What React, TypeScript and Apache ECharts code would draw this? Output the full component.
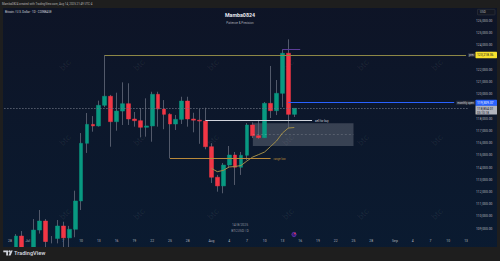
import React, { useEffect, useRef } from "react";
import * as echarts from "echarts";

// ---------- data ----------
const candleDates = [
  "2025-06-28", "2025-06-29", "2025-06-30",
  "2025-07-01", "2025-07-02", "2025-07-03", "2025-07-04", "2025-07-05", "2025-07-06", "2025-07-07",
  "2025-07-08", "2025-07-09", "2025-07-10", "2025-07-11", "2025-07-12", "2025-07-13", "2025-07-14",
  "2025-07-15", "2025-07-16", "2025-07-17", "2025-07-18", "2025-07-19", "2025-07-20", "2025-07-21",
  "2025-07-22", "2025-07-23", "2025-07-24", "2025-07-25", "2025-07-26", "2025-07-27", "2025-07-28",
  "2025-07-29", "2025-07-30", "2025-07-31",
  "2025-08-01", "2025-08-02", "2025-08-03", "2025-08-04", "2025-08-05", "2025-08-06", "2025-08-07",
  "2025-08-08", "2025-08-09", "2025-08-10", "2025-08-11", "2025-08-12", "2025-08-13", "2025-08-14",
  "2025-08-15",
];
const opens = [
  107300, 107250, 108400,
  107150, 105700, 108890, 109630, 107950, 108200, 109220,
  108250, 108950, 111270, 115990, 117540, 117410, 119100,
  119840, 117760, 118630, 119230, 117980, 117840, 117300,
  117410, 120000, 118800, 118360, 117570, 117950, 119450,
  117980, 117880, 117810,
  115710, 113210, 112500, 114210, 115030, 114030, 115010,
  117490, 116610, 116450, 119260, 118660, 120080, 123360,
  118360,
];
const highs = [
  107650, 108560, 108810,
  107550, 109790, 110530, 109790, 108400, 109710, 109570,
  109230, 112110, 116830, 118470, 118220, 119480, 123218,
  119950, 120130, 120980, 120900, 118550, 118880, 119670,
  120210, 120210, 119530, 118450, 118310, 119800, 119800,
  118490, 118800, 118900,
  116000, 113400, 114380, 115770, 115280, 115280, 117650,
  117700, 117900, 119370, 122320, 121170, 123680, 124500,
  118880,
];
const lows = [
  106900, 107050, 106800,
  105300, 105100, 108600, 107250, 107800, 107800, 107500,
  107450, 108300, 110530, 115200, 116940, 117360, 118950,
  115710, 117020, 117490, 117490, 117350, 116480, 116530,
  116120, 117350, 117140, 114760, 117080, 117570, 117350,
  116890, 115950, 115500,
  112740, 112030, 111900, 113970, 112580, 113400, 114620,
  116420, 116340, 116420, 118060, 118300, 118940, 117160,
  118140,
];
const closes = [
  107250, 108400, 107150,
  105700, 108890, 109630, 107950, 108200, 109220, 108250,
  108950, 111270, 115990, 117540, 117410, 119100, 119840,
  117760, 118630, 119230, 117980, 117840, 117300, 117410,
  120000, 118800, 118360, 117570, 117950, 119450, 117980,
  117880, 117810, 115710,
  113210, 112500, 114210, 115030, 114030, 115010, 117490,
  116610, 116450, 119260, 118660, 120080, 123360, 118360,
  118854.01,
];

// anchored VWAP (orange curve)
const vwapDates = [
  "2025-08-01", "2025-08-02", "2025-08-03", "2025-08-04", "2025-08-05", "2025-08-06", "2025-08-07",
  "2025-08-08", "2025-08-09", "2025-08-10", "2025-08-11", "2025-08-12", "2025-08-13", "2025-08-14",
  "2025-08-15",
];
const vwapValues = [
  113940, 113670, 113770, 114050, 114090, 114170, 114540,
  114870, 115070, 115280, 115730, 116180, 116830, 117240, 117280,
];

// y tick labels (123,000 and 119,000 hidden behind tags)
const priceTicks = [
  109000, 110000, 111000, 112000, 113000, 114000, 115000, 116000, 117000, 118000,
  120000, 121000, 122000, 124000, 125000, 126000,
];
const xLabelDays = [1, 4, 7, 10, 13, 16, 19, 22, 25, 28];
const monthNames = ["Jan", "Feb", "Mar", "Apr", "May", "Jun", "Jul", "Aug", "Sep", "Oct", "Nov", "Dec"];

// drawings
const prevHigh = 123218.36;
const monthlyOpen = 119309.37;
const lastPrice = 118854.01;
const sellForBuy = 117840;
const rangeLow = 114760;
const purpleLevel = 123700;
const boxTop = 117630;
const boxBottom = 115770;
const boxMid = 116700;

const axisStart = "2025-06-27";
const axisEnd = "2025-09-13";

function buildDays(start: string, end: string): string[] {
  const out: string[] = [];
  let t = Date.parse(start + "T00:00:00Z");
  const e = Date.parse(end + "T00:00:00Z");
  while (t <= e) {
    out.push(new Date(t).toISOString().slice(0, 10));
    t += 86400000;
  }
  return out;
}

const FONT = 'Roboto, "Noto Sans", Arial, sans-serif';
const fmtPrice = (v: number) =>
  v.toLocaleString("en-US", { minimumFractionDigits: 2, maximumFractionDigits: 2 });

function seg(x1: string, x2: string, y: number, lineStyle: any, label?: any) {
  const lab = label || { show: false };
  return [
    { coord: [x1, y], lineStyle, label: lab },
    { coord: [x2, y], lineStyle, label: lab },
  ];
}

export default function App() {
  const ref = useRef<HTMLDivElement>(null);

  useEffect(() => {
    const el = ref.current;
    if (!el) return;
    const chart = echarts.init(el, null, { renderer: "svg" });
    const axisDays = buildDays(axisStart, axisEnd);

    const wickData = candleDates.map((d, i) => [d, opens[i], closes[i], lows[i], highs[i]]);
    const bodyData = candleDates.map((d, i) => [
      d, opens[i], closes[i], Math.min(opens[i], closes[i]), Math.max(opens[i], closes[i]),
    ]);
    const vwapData = vwapDates.map((d, i) => [d, vwapValues[i]]);

    const smallLabel = (text: string, color: string, bg?: string) => ({
      show: true,
      position: "end",
      formatter: text,
      color,
      fontSize: 2.8,
      fontFamily: FONT,
      distance: 2,
      backgroundColor: bg || "transparent",
      padding: bg ? [0.6, 1] : 0,
      borderRadius: 0.5,
    });

    const option: any = {
      animation: false,
      backgroundColor: new echarts.graphic.LinearGradient(0, 0, 0, 1, [
        { offset: 0, color: "#0e1426" },
        { offset: 1, color: "#0a1b31" },
      ]),
      textStyle: { fontFamily: FONT },
      grid: { left: 1.116, right: 31, top: 8, bottom: 23.7, containLabel: false },
      xAxis: {
        type: "category",
        data: axisDays,
        boundaryGap: true,
        axisLine: { show: false },
        axisTick: { show: false },
        splitLine: { show: false },
        axisLabel: {
          interval: (_i: number, v: string) => xLabelDays.includes(parseInt(v.slice(8), 10)),
          formatter: (v: string) => {
            const day = parseInt(v.slice(8), 10);
            return day === 1 ? monthNames[parseInt(v.slice(5, 7), 10) - 1] : String(day);
          },
          color: "#b2b5be",
          fontSize: 3.4,
          margin: 2.6,
          fontFamily: FONT,
        },
      },
      yAxis: {
        type: "value",
        position: "right",
        min: 108296,
        max: 127064,
        axisLine: { show: false },
        axisTick: { show: false },
        splitLine: { show: false },
        axisLabel: {
          customValues: priceTicks,
          formatter: (v: number) => fmtPrice(v),
          color: "#b2b5be",
          fontSize: 3.3,
          margin: 7,
          align: "left",
          fontFamily: FONT,
        },
      },
      series: [
        {
          type: "candlestick",
          name: "wick",
          data: wickData,
          encode: { x: 0, y: [1, 2, 3, 4] },
          barWidth: 0.6,
          clip: true,
          itemStyle: {
            color: "#5a6172",
            color0: "#5a6172",
            borderColor: "#5a6172",
            borderColor0: "#5a6172",
            borderWidth: 0.9,
          },
          z: 2,
        },
        {
          type: "candlestick",
          name: "body",
          data: bodyData,
          encode: { x: 0, y: [1, 2, 3, 4] },
          barWidth: 4.3,
          clip: true,
          itemStyle: {
            color: "#089981",
            color0: "#f23645",
            borderColor: "#089981",
            borderColor0: "#f23645",
            borderWidth: 0.5,
          },
          z: 3,
          markArea: {
            silent: true,
            itemStyle: { color: "rgba(178,181,190,0.27)" },
            data: [[{ coord: ["2025-08-08", boxTop] }, { coord: ["2025-08-25", boxBottom] }]],
          },
          markLine: {
            silent: true,
            symbol: ["none", "none"],
            label: { show: false },
            data: [
              seg("2025-07-14", "2025-09-13", prevHigh, { color: "#8d8746", width: 1, type: "solid" },
                smallLabel("prev", "#d1d4dc", "#2a2e39")),
              seg("2025-08-14", "2025-09-11", monthlyOpen, { color: "#2962ff", width: 1, type: "solid" },
                smallLabel("monthly open", "#d1d4dc", "#2a2e39")),
              { yAxis: lastPrice, lineStyle: { color: "#6b7180", width: 0.8, type: [1.5, 1.5] }, label: { show: false } },
              seg("2025-07-31", "2025-08-18", sellForBuy, { color: "#d1d4dc", width: 1, type: "solid" },
                { ...smallLabel("sell for buy", "#d1d4dc"), distance: 3 }),
              seg("2025-07-25", "2025-08-11", rangeLow, { color: "#b8893a", width: 1, type: "solid" },
                { ...smallLabel("range low", "#b8893a"), distance: 3 }),
              seg("2025-08-13", "2025-08-16", purpleLevel, { color: "#5b3d98", width: 1, type: "solid" }),
              seg("2025-08-08", "2025-08-25", boxMid, { color: "rgba(255,255,255,0.22)", width: 0.7, type: [2, 2] }),
            ],
          },
        },
        {
          type: "line",
          name: "vwap",
          data: vwapData,
          showSymbol: false,
          symbol: "none",
          lineStyle: { color: "#a08d48", width: 1 },
          z: 4,
        },
      ],
    };

    chart.setOption(option);

    const yOf = (p: number) => chart.convertToPixel({ yAxisIndex: 0 }, p) as number;

    const wm: any[] = [];
    const wmX = [65, 139, 213, 288, 363, 437];
    const wmY = [65, 140, 214];
    wmY.forEach((y) =>
      wmX.forEach((x) =>
        wm.push({
          type: "text",
          x,
          y,
          rotation: Math.PI / 4,
          z: 1,
          silent: true,
          style: {
            text: "btc",
            fill: "rgba(255,255,255,0.07)",
            fontSize: 8.5,
            fontFamily: FONT,
            align: "center",
            verticalAlign: "middle",
          },
        })
      )
    );

    const tag = (p: number, bg: string, fg: string, text: string, h = 6.4) => {
      const y = yOf(p);
      return [
        { type: "rect", z: 60, shape: { x: 475.5, y: y - h / 2, width: 21.5, height: h, r: 0.6 }, style: { fill: bg } },
        {
          type: "text", z: 61, x: 477, y,
          style: { text, fill: fg, fontSize: 3.3, fontFamily: FONT, verticalAlign: "middle", align: "left" },
        },
      ];
    };

    const lastY = yOf(lastPrice);

    const graphic: any[] = [
      ...wm,
      // frame bars
      { type: "rect", z: 50, shape: { x: 0, y: 0, width: 500, height: 8 }, style: { fill: "#1e1e1e" } },
      { type: "rect", z: 50, shape: { x: 0, y: 247, width: 500, height: 14 }, style: { fill: "#1e1e1e" } },
      { type: "rect", z: 50, shape: { x: 0, y: 0, width: 3, height: 261 }, style: { fill: "#1e1e1e" } },
      { type: "rect", z: 50, shape: { x: 497, y: 0, width: 3, height: 261 }, style: { fill: "#1e1e1e" } },
      {
        type: "text", z: 51, x: 2, y: 4,
        style: {
          text: "Mamba0824 created with TradingView.com, Aug 14, 2025 21:49 UTC-4",
          fill: "#b4b4b4", fontSize: 2.9, fontFamily: FONT, verticalAlign: "middle",
        },
      },
      {
        type: "text", z: 51, x: 5, y: 11.3,
        style: {
          text: "Bitcoin / U.S. Dollar · 1D · COINBASE",
          fill: "#d1d4dc", fontSize: 2.9, fontFamily: FONT, verticalAlign: "middle",
        },
      },
      {
        type: "text", z: 51, x: 240, y: 15,
        style: {
          text: "Mamba0824", fill: "#e6e8ee", fontSize: 5.3, fontWeight: "bold",
          fontFamily: FONT, align: "center", verticalAlign: "middle",
        },
      },
      {
        type: "text", z: 51, x: 240, y: 22.7,
        style: {
          text: "Patience & Precision", fill: "#a3a6af", fontSize: 3,
          fontFamily: FONT, align: "center", verticalAlign: "middle",
        },
      },
      {
        type: "text", z: 51, x: 240, y: 224.7,
        style: {
          text: "14/8/2025", fill: "#8c909c", fontSize: 3.4,
          fontFamily: FONT, align: "center", verticalAlign: "middle",
        },
      },
      {
        type: "text", z: 51, x: 240, y: 231.3,
        style: {
          text: "BTCUSD | D", fill: "#8c909c", fontSize: 3.4,
          fontFamily: FONT, align: "center", verticalAlign: "middle",
        },
      },
      { type: "circle", z: 51, shape: { cx: 294, cy: 234.5, r: 2.2 }, style: { fill: "#3b1d7a", stroke: "#6a3cc8", lineWidth: 0.6 } },
      { type: "circle", z: 52, shape: { cx: 295, cy: 233.5, r: 0.8 }, style: { fill: "#f23645" } },
      // USD box
      {
        type: "rect", z: 55, shape: { x: 477.5, y: 9.3, width: 17.5, height: 5.6, r: 0.6 },
        style: { fill: "#131722", stroke: "#434651", lineWidth: 0.4 },
      },
      {
        type: "text", z: 56, x: 480, y: 12.1,
        style: { text: "USD", fill: "#b2b5be", fontSize: 3, fontFamily: FONT, verticalAlign: "middle" },
      },
      // last price tag (two lines)
      {
        type: "rect", z: 58, shape: { x: 475.5, y: lastY - 3, width: 21.5, height: 9.2, r: 0.6 },
        style: { fill: "#b2b5be" },
      },
      {
        type: "text", z: 59, x: 477, y: lastY + 0.6,
        style: { text: fmtPrice(lastPrice), fill: "#131722", fontSize: 3.3, fontFamily: FONT, verticalAlign: "middle" },
      },
      {
        type: "text", z: 59, x: 477, y: lastY + 4.4,
        style: { text: "03:10:18", fill: "#131722", fontSize: 3.1, fontFamily: FONT, verticalAlign: "middle" },
      },
      ...tag(prevHigh, "#f7e12e", "#131722", fmtPrice(prevHigh)),
      ...tag(monthlyOpen, "#2962ff", "#ffffff", fmtPrice(monthlyOpen), 5.8),
      // TradingView logo
      {
        type: "polygon", z: 51,
        shape: { points: [[3.3, 250.5], [8, 250.5], [8, 255.6], [6.2, 255.6], [6.2, 252.2], [3.3, 252.2]] },
        style: { fill: "#d1d4dc" },
      },
      { type: "circle", z: 51, shape: { cx: 9.3, cy: 251.4, r: 0.9 }, style: { fill: "#d1d4dc" } },
      {
        type: "polygon", z: 51,
        shape: { points: [[10.6, 250.5], [12.7, 250.5], [10.6, 255.6], [8.5, 255.6]] },
        style: { fill: "#d1d4dc" },
      },
      {
        type: "text", z: 51, x: 14, y: 253.1,
        style: {
          text: "TradingView", fill: "#d1d4dc", fontSize: 5.6, fontWeight: 600,
          fontFamily: FONT, verticalAlign: "middle",
        },
      },
    ];

    chart.setOption({ graphic });

    return () => {
      chart.dispose();
    };
  }, []);

  return (
    <div
      ref={ref}
      style={{ position: "absolute", left: 0, top: 0, width: 500, height: 261 }}
    />
  );
}
